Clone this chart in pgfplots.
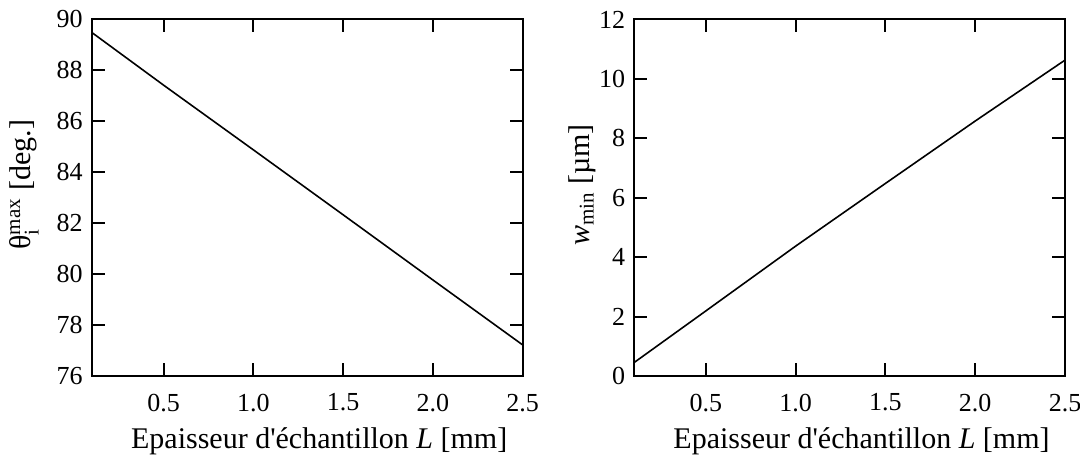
\documentclass[border=0pt]{standalone}
\usepackage{fontspec}
\setmainfont{Liberation Serif}
\usepackage{amsmath}
\usepackage{pgfplots}
\pgfplotsset{compat=1.18}
\pgfplotsset{
  myax/.style={
    scale only axis, width=215.5pt, height=178.3pt,
    at={(0pt,0pt)}, anchor=south west,
    xmin=0.1, xmax=2.5,
    xtick={0.5,1.0,1.5,2.0,2.5},
    xticklabels={0.5,1.0,1.5,2.0,2.5},
    tick align=inside, tick pos=both,
    major tick length=6.5pt,
    axis line style={line width=1pt},
    every tick/.style={black, line width=1pt},
    /pgf/number format/assume math mode=true,
    tick label style={font=\fontsize{13}{15}\selectfont, inner sep=0pt},
    xticklabel style={anchor=north, yshift=-8.7pt},
    yticklabel style={anchor=east, xshift=-4.3pt},
    every axis x label/.style={at={(axis description cs:0.5,0)}, anchor=base, yshift=-36pt, xshift=6pt, font=\fontsize{15}{17}\selectfont},
    xlabel={Epaisseur d\textquotesingle échantillon \textit{L} [mm]},
  }
}
\begin{document}
\begin{tikzpicture}
\path[use as bounding box] (-45.85pt,-39.5pt) rectangle (494.15pt,188pt);
\begin{axis}[myax, ymin=76, ymax=90, ytick={76,78,...,90},
  every axis y label/.style={at={(axis description cs:0,0.5)}, rotate=90, anchor=center, yshift=33.8pt, xshift=6.5pt, font=\fontsize{15}{17}\selectfont},
  ylabel={θ$_{\text{i}}^{\text{max}}$ [deg.]}]
\addplot[black, line width=0.8pt] coordinates {
(0.1,89.49) (0.5,87.42) (1.0,84.88) (1.5,82.33) (2.0,79.77) (2.5,77.22)};
\end{axis}
\begin{axis}[myax, xshift=271.15pt, ymin=0, ymax=12, ytick={0,2,...,12},
  every axis y label/.style={at={(axis description cs:0,0.5)}, rotate=90, anchor=center, yshift=26pt, xshift=6.4pt, font=\fontsize{15}{17}\selectfont},
  ylabel={\textit{w}$_{\text{min}}$ [µm]}]
\addplot[black, line width=0.8pt] coordinates {
(0.1,0.45) (0.5,2.19) (1.0,4.37) (1.5,6.48) (2.0,8.58) (2.5,10.63)};
\end{axis}
\end{tikzpicture}
\end{document}
